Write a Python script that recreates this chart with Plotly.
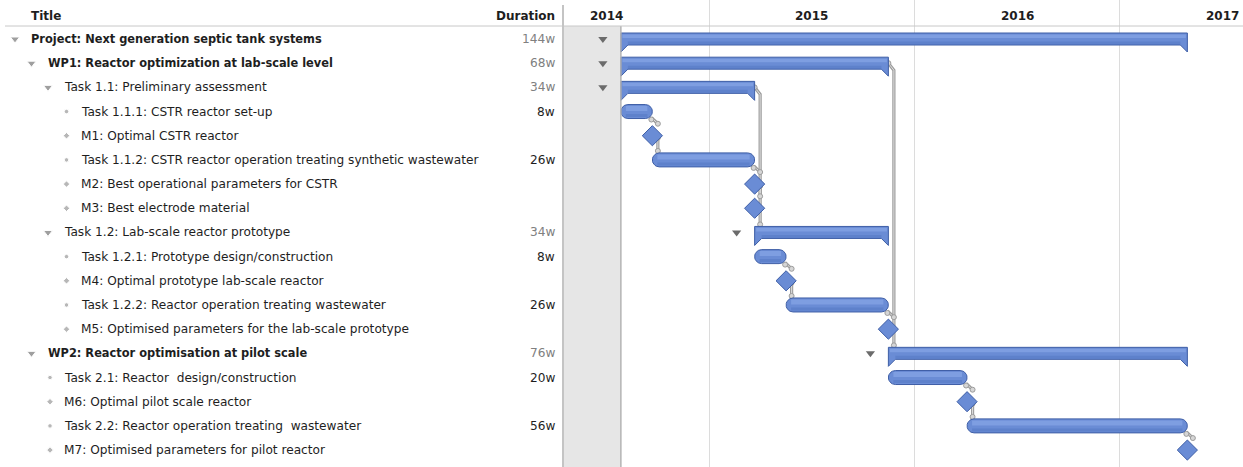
import math
import pandas as pd
import plotly.graph_objects as go

# ---------------- data ----------------
titles = [
    "Project: Next generation septic tank systems",
    "WP1: Reactor optimization at lab-scale level",
    "Task 1.1: Preliminary assessment",
    "Task 1.1.1: CSTR reactor set-up",
    "M1: Optimal CSTR reactor",
    "Task 1.1.2: CSTR reactor operation treating synthetic wastewater",
    "M2: Best operational parameters for CSTR",
    "M3: Best electrode material",
    "Task 1.2: Lab-scale reactor prototype",
    "Task 1.2.1: Prototype design/construction",
    "M4: Optimal prototype lab-scale reactor",
    "Task 1.2.2: Reactor operation treating wastewater",
    "M5: Optimised parameters for the lab-scale prototype",
    "WP2: Reactor optimisation at pilot scale",
    "Task 2.1: Reactor\u00a0 design/construction",
    "M6: Optimal pilot scale reactor",
    "Task 2.2: Reactor operation treating\u00a0 wastewater",
    "M7: Optimised parameters for pilot reactor",
]
levels = [0, 1, 2, 3, 3, 3, 3, 3, 2, 3, 3, 3, 3, 1, 2, 2, 2, 2]
kinds = ["summary", "summary", "summary", "task", "milestone", "task", "milestone", "milestone",
         "summary", "task", "milestone", "task", "milestone",
         "summary", "task", "milestone", "task", "milestone"]
start_weeks = [0, 0, 0, 0, 8, 8, 34, 34, 34, 34, 42, 42, 68, 68, 68, 88, 88, 144]
dur_weeks = [144, 68, 34, 8, 0, 26, 0, 0, 34, 8, 0, 26, 0, 76, 20, 0, 56, 0]
dur_labels = ["144w", "68w", "34w", "8w", "", "26w", "", "", "34w", "8w", "", "26w", "",
              "76w", "20w", "", "56w", ""]
years = [2014, 2015, 2016, 2017]
project_start = "2014-07-28"
# (from row, to row) finish-to-start links
dependencies = [(3, 4), (4, 5), (5, 6), (6, 7), (2, 8), (9, 10), (10, 11), (11, 12),
                (1, 13), (14, 15), (15, 16), (16, 17)]

# ---------------- layout geometry ----------------
W, H = 1243, 467
TABLE_W = 563
ROW_PX = 24.18
FIRST_ROW_PX = 39
Y_RANGE = [(H - FIRST_ROW_PX) / ROW_PX, -FIRST_ROW_PX / ROW_PX]
X_RANGE = [pd.Timestamp("2014-04-16"), pd.Timestamp("2017-08-08")]
PX_PER_DAY = (W - TABLE_W) / (X_RANGE[1] - X_RANGE[0]).days
HEADER_Y = Y_RANGE[1] + 26 / ROW_PX

FONT = "DejaVu Sans"
REG_SIZE = 12.15
BOLD_SIZE = 11.4
BLUE = "#6a8cd5"
BLUE_LINE = "#3e5ea6"


def dxp(px):
    return pd.Timedelta(days=px / PX_PER_DAY)


def dyp(px):
    return px / ROW_PX


t0 = pd.Timestamp(project_start)
starts = [t0 + pd.Timedelta(weeks=w) for w in start_weeks]
ends = [s + pd.Timedelta(weeks=d) for s, d in zip(starts, dur_weeks)]

fig = go.Figure()

# ---------------- dependency lines ----------------
dep_x, dep_y, m_x, m_y = [], [], [], []
for a, b in dependencies:
    e = ends[a]
    xv = e + dxp(5.5)
    if kinds[b] == "milestone":
        off = 10
    elif kinds[b] == "task":
        off = 7
    else:
        off = 6
    yend = b - dyp(off + 2)
    if kinds[a] == "milestone":
        pts = [(xv, a + dyp(2)), (xv, yend)]
    elif kinds[a] == "summary":
        pts = [(e, a), (xv, a + dyp(7)), (xv, yend)]
    else:
        pts = [(e - dxp(1), a + dyp(6)), (xv, a + dyp(12)), (xv, yend)]
    for px_, py_ in pts:
        dep_x.append(px_)
        dep_y.append(py_)
    dep_x.append(None)
    dep_y.append(None)
    m_x += [pts[0][0], xv]
    m_y += [pts[0][1] + (dyp(2) if kinds[a] == "task" else 0), yend]

fig.add_trace(go.Scatter(x=dep_x, y=dep_y, xaxis="x2", yaxis="y", mode="lines",
                         line=dict(color="#9c9c9c", width=3.2), hoverinfo="skip", showlegend=False))
fig.add_trace(go.Scatter(x=dep_x, y=dep_y, xaxis="x2", yaxis="y", mode="lines",
                         line=dict(color="#dedede", width=1), hoverinfo="skip", showlegend=False))
fig.add_trace(go.Scatter(x=m_x, y=m_y, xaxis="x2", yaxis="y", mode="markers",
                         marker=dict(symbol="circle", size=5, color="#d6d6d6",
                                     line=dict(color="#9c9c9c", width=1)),
                         hoverinfo="skip", showlegend=False))

# ---------------- bars ----------------
sum_x, sum_y, task_x, task_y = [], [], [], []
hi_x, hi_y, lo_x, lo_y = [], [], [], []


def add_poly(xs, ys, pts):
    for px_, py_ in pts:
        xs.append(px_)
        ys.append(py_)
    xs.append(None)
    ys.append(None)


for i, k in enumerate(kinds):
    s, e = starts[i], ends[i]
    if k == "summary":
        top, bot, tip = i - dyp(6), i + dyp(6), i + dyp(13)
        ins = dxp(7)
        add_poly(sum_x, sum_y,
                 [(s, top), (e, top), (e, tip), (e - ins, bot), (s + ins, bot), (s, tip), (s, top)])
        add_poly(hi_x, hi_y, [(s + dxp(1.5), top + dyp(1.5)), (e - dxp(1.5), top + dyp(1.5)),
                              (e - dxp(1.5), i - dyp(1)), (s + dxp(1.5), i - dyp(1))])
        add_poly(lo_x, lo_y, [(s + ins, i + dyp(2.5)), (e - ins, i + dyp(2.5)),
                              (e - ins, bot - dyp(0.8)), (s + ins, bot - dyp(0.8))])
    elif k == "task":
        rd, ry = 7, 7
        n = 14
        pts = []
        for j in range(n + 1):
            t = -math.pi / 2 + math.pi * j / n
            pts.append((e - dxp(rd) + dxp(rd * math.cos(t)), i + dyp(ry * math.sin(t))))
        for j in range(n + 1):
            t = math.pi / 2 + math.pi * j / n
            pts.append((s + dxp(rd) + dxp(rd * math.cos(t)), i + dyp(ry * math.sin(t))))
        pts.append(pts[0])
        add_poly(task_x, task_y, pts)
        add_poly(hi_x, hi_y, [(s + dxp(5), i - dyp(5.5)), (e - dxp(5), i - dyp(5.5)),
                              (e - dxp(5), i - dyp(0.5)), (s + dxp(5), i - dyp(0.5))])
        add_poly(lo_x, lo_y, [(s + dxp(5), i + dyp(2.5)), (e - dxp(5), i + dyp(2.5)),
                              (e - dxp(5), i + dyp(5.5)), (s + dxp(5), i + dyp(5.5))])

fig.add_trace(go.Scatter(x=sum_x, y=sum_y, xaxis="x2", yaxis="y", mode="lines", fill="toself",
                         fillcolor=BLUE, line=dict(color=BLUE_LINE, width=1),
                         hoverinfo="skip", showlegend=False))
fig.add_trace(go.Scatter(x=task_x, y=task_y, xaxis="x2", yaxis="y", mode="lines", fill="toself",
                         fillcolor=BLUE, line=dict(color=BLUE_LINE, width=1),
                         hoverinfo="skip", showlegend=False))
fig.add_trace(go.Scatter(x=hi_x, y=hi_y, xaxis="x2", yaxis="y", mode="lines", fill="toself",
                         fillcolor="rgba(150,180,240,0.45)", line=dict(width=0),
                         hoverinfo="skip", showlegend=False))
fig.add_trace(go.Scatter(x=lo_x, y=lo_y, xaxis="x2", yaxis="y", mode="lines", fill="toself",
                         fillcolor="rgba(60,95,175,0.25)", line=dict(width=0),
                         hoverinfo="skip", showlegend=False))

ms_idx = [i for i, k in enumerate(kinds) if k == "milestone"]
fig.add_trace(go.Scatter(x=[starts[i] for i in ms_idx], y=ms_idx, xaxis="x2", yaxis="y",
                         mode="markers",
                         marker=dict(symbol="diamond", size=15.5, color=BLUE,
                                     line=dict(color=BLUE_LINE, width=1)),
                         hoverinfo="skip", showlegend=False))

# collapse triangles in the chart
sum_idx = [i for i, k in enumerate(kinds) if k == "summary"]
fig.add_trace(go.Scatter(x=[starts[i] - dxp(18) for i in sum_idx], y=sum_idx, xaxis="x2", yaxis="y",
                         mode="markers", marker=dict(symbol="triangle-down", size=8, color="#6b6b6b"),
                         hoverinfo="skip", showlegend=False))

# ---------------- table icons ----------------
icon_sym = {"summary": "triangle-down", "task": "circle", "milestone": "diamond"}
icon_size = {"summary": 8, "task": 4.5, "milestone": 5}
icon_col = {"summary": "#777777", "task": "#9a9a9a", "milestone": "#9a9a9a"}
icon_dx = {"summary": 15, "task": 17, "milestone": 17}
fig.add_trace(go.Scatter(
    x=[icon_dx[k] + 16.5 * lv for k, lv in zip(kinds, levels)],
    y=list(range(len(titles))), xaxis="x", yaxis="y", mode="markers",
    marker=dict(symbol=[icon_sym[k] for k in kinds], size=[icon_size[k] for k in kinds],
                color=[icon_col[k] for k in kinds]),
    hoverinfo="skip", showlegend=False))

# ---------------- text ----------------
ann = []
for i, (t, lv, k) in enumerate(zip(titles, levels, kinds)):
    bold = lv <= 1 and k == "summary"
    ann.append(dict(x=29 + 16.5 * lv, y=i, xref="x", yref="y", text=f"<b>{t}</b>" if bold else t,
                    xanchor="left", yanchor="middle", showarrow=False,
                    font=dict(family=FONT, size=BOLD_SIZE if bold else REG_SIZE, color="#1e1e1e")))
    if dur_labels[i]:
        ann.append(dict(x=557, y=i, xref="x", yref="y", text=dur_labels[i],
                        xanchor="right", yanchor="middle", showarrow=False,
                        font=dict(family=FONT, size=REG_SIZE,
                                  color="#808080" if k == "summary" else "#1e1e1e")))
hdr_y = Y_RANGE[1] + 16 / ROW_PX
ann.append(dict(x=29, y=hdr_y, xref="x", yref="y", text="<b>Title</b>", xanchor="left",
                yanchor="middle", showarrow=False,
                font=dict(family=FONT, size=BOLD_SIZE + 0.6, color="#1e1e1e")))
ann.append(dict(x=557, y=hdr_y, xref="x", yref="y", text="<b>Duration</b>", xanchor="right",
                yanchor="middle", showarrow=False,
                font=dict(family=FONT, size=BOLD_SIZE + 0.6, color="#1e1e1e")))
for yr in years:
    ann.append(dict(x=pd.Timestamp(f"{yr}-07-02"), y=hdr_y, xref="x2", yref="y",
                    text=f"<b>{yr}</b>", xanchor="center", yanchor="middle", showarrow=False,
                    font=dict(family=FONT, size=BOLD_SIZE + 0.6, color="#1e1e1e")))

# ---------------- shapes ----------------
shapes = [
    # non-working area before project start
    dict(type="rect", xref="x2", yref="y", x0=X_RANGE[0], x1=t0, y0=HEADER_Y, y1=Y_RANGE[0],
         fillcolor="#e6e6e6", line=dict(width=0), layer="below"),
    dict(type="line", xref="x2", yref="y", x0=t0, x1=t0, y0=HEADER_Y, y1=Y_RANGE[0],
         line=dict(color="#b4b4b4", width=1.5)),
    # header underline
    dict(type="line", xref="paper", yref="y", x0=5 / W, x1=1, y0=HEADER_Y, y1=HEADER_Y,
         line=dict(color="#c8c8c8", width=1)),
    # table / chart divider
    dict(type="line", xref="paper", yref="y", x0=TABLE_W / W, x1=TABLE_W / W,
         y0=Y_RANGE[1] + 5 / ROW_PX, y1=Y_RANGE[0], line=dict(color="#c4c4c4", width=2)),
]

fig.update_layout(
    width=W, height=H,
    margin=dict(l=0, r=0, t=0, b=0),
    paper_bgcolor="white", plot_bgcolor="white",
    showlegend=False,
    xaxis=dict(domain=[0, TABLE_W / W], range=[0, TABLE_W], visible=False, fixedrange=True),
    xaxis2=dict(domain=[TABLE_W / W, 1], type="date", range=X_RANGE, anchor="y",
                tickvals=[pd.Timestamp(f"{yr}-01-01") for yr in years[1:]],
                showticklabels=False, showgrid=True, gridcolor="#dcdcdc", gridwidth=1,
                zeroline=False, showline=False, ticks="", fixedrange=True),
    yaxis=dict(range=Y_RANGE, visible=False, fixedrange=True),
    annotations=ann,
    shapes=shapes,
)

fig.write_html("out.html", config={"displayModeBar": False},
               post_script="document.body.style.margin='0px';document.body.style.overflow='hidden';")
